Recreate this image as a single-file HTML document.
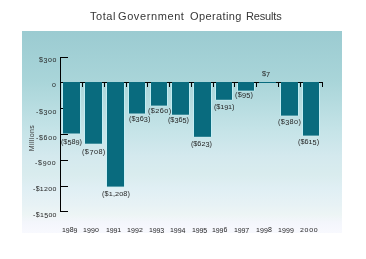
<!DOCTYPE html>
<html><head><meta charset="utf-8"><style>
html,body{margin:0;padding:0;width:366px;height:259px;overflow:hidden;background:#fff}
body{position:relative;font-family:"Liberation Sans",sans-serif;color:#262626}
#panel{position:absolute;left:22px;top:31px;width:320px;height:202px;background:linear-gradient(to bottom,#9bcbd1 0%,#a9d5d9 25%,#c6e4e8 50%,#d4e9ee 62%,#d9ecee 71%,#e0eff4 78%,#e7f2f5 86%,#edf5f5 91%,#f4f6fc 95%,#f8f9fe 100%)}
svg{position:absolute;left:0;top:0}
.tt,.lb,.yr,.yl{position:absolute;will-change:transform;line-height:20px;white-space:nowrap}
.tt{color:#363636}
.xs{display:inline-block;line-height:1em;transform:scaleY(0.78);transform-origin:50% 84.65%}.ds{display:inline-block;line-height:1em;transform:translateY(1.1px)}
.mil{position:absolute;left:18px;top:133px;width:28px;height:10px;text-align:center;font-size:7px;line-height:10px;transform:rotate(-90deg);letter-spacing:0.4px;color:#3c3c3c;white-space:nowrap;will-change:transform}
</style></head><body>
<div id="panel"></div>
<svg width="366" height="259" viewBox="0 0 366 259">
<rect x="62" y="83" width="1" height="50.50" fill="#c6f2f8" opacity="0.75"/>
<rect x="80" y="83" width="1" height="50.50" fill="#c6f2f8" opacity="0.75"/>
<rect x="63" y="133.50" width="17" height="1" fill="#d0f0f4" opacity="0.5"/>
<rect x="63" y="82" width="17" height="51.50" fill="#096b7e"/>
<rect x="84" y="83" width="1" height="60.70" fill="#c6f2f8" opacity="0.75"/>
<rect x="102" y="83" width="1" height="60.70" fill="#c6f2f8" opacity="0.75"/>
<rect x="85" y="143.70" width="17" height="1" fill="#d0f0f4" opacity="0.5"/>
<rect x="85" y="82" width="17" height="61.70" fill="#096b7e"/>
<rect x="106" y="83" width="1" height="103.60" fill="#c6f2f8" opacity="0.75"/>
<rect x="124" y="83" width="1" height="103.60" fill="#c6f2f8" opacity="0.75"/>
<rect x="107" y="186.60" width="17" height="1" fill="#d0f0f4" opacity="0.5"/>
<rect x="107" y="82" width="17" height="104.60" fill="#096b7e"/>
<rect x="128" y="83" width="1" height="30.50" fill="#c6f2f8" opacity="0.75"/>
<rect x="145" y="83" width="1" height="30.50" fill="#c6f2f8" opacity="0.75"/>
<rect x="129" y="113.50" width="16" height="1" fill="#d0f0f4" opacity="0.5"/>
<rect x="129" y="82" width="16" height="31.50" fill="#096b7e"/>
<rect x="150" y="83" width="1" height="22.60" fill="#c6f2f8" opacity="0.75"/>
<rect x="167" y="83" width="1" height="22.60" fill="#c6f2f8" opacity="0.75"/>
<rect x="151" y="105.60" width="16" height="1" fill="#d0f0f4" opacity="0.5"/>
<rect x="151" y="82" width="16" height="23.60" fill="#096b7e"/>
<rect x="171" y="83" width="1" height="31.70" fill="#c6f2f8" opacity="0.75"/>
<rect x="189" y="83" width="1" height="31.70" fill="#c6f2f8" opacity="0.75"/>
<rect x="172" y="114.70" width="17" height="1" fill="#d0f0f4" opacity="0.5"/>
<rect x="172" y="82" width="17" height="32.70" fill="#096b7e"/>
<rect x="193" y="83" width="1" height="53.80" fill="#c6f2f8" opacity="0.75"/>
<rect x="211" y="83" width="1" height="53.80" fill="#c6f2f8" opacity="0.75"/>
<rect x="194" y="136.80" width="17" height="1" fill="#d0f0f4" opacity="0.5"/>
<rect x="194" y="82" width="17" height="54.80" fill="#096b7e"/>
<rect x="215" y="83" width="1" height="16.75" fill="#c6f2f8" opacity="0.75"/>
<rect x="232" y="83" width="1" height="16.75" fill="#c6f2f8" opacity="0.75"/>
<rect x="216" y="99.75" width="16" height="1" fill="#d0f0f4" opacity="0.5"/>
<rect x="216" y="82" width="16" height="17.75" fill="#096b7e"/>
<rect x="237" y="83" width="1" height="7.60" fill="#c6f2f8" opacity="0.75"/>
<rect x="254" y="83" width="1" height="7.60" fill="#c6f2f8" opacity="0.75"/>
<rect x="238" y="90.60" width="16" height="1" fill="#d0f0f4" opacity="0.5"/>
<rect x="238" y="82" width="16" height="8.60" fill="#096b7e"/>
<rect x="259" y="82" width="17" height="1.00" fill="#096b7e"/>
<rect x="280" y="83" width="1" height="32.60" fill="#c6f2f8" opacity="0.75"/>
<rect x="298" y="83" width="1" height="32.60" fill="#c6f2f8" opacity="0.75"/>
<rect x="281" y="115.60" width="17" height="1" fill="#d0f0f4" opacity="0.5"/>
<rect x="281" y="82" width="17" height="33.60" fill="#096b7e"/>
<rect x="302" y="83" width="1" height="52.60" fill="#c6f2f8" opacity="0.75"/>
<rect x="319" y="83" width="1" height="52.60" fill="#c6f2f8" opacity="0.75"/>
<rect x="303" y="135.60" width="16" height="1" fill="#d0f0f4" opacity="0.5"/>
<rect x="303" y="82" width="16" height="53.60" fill="#096b7e"/>
<rect x="60" y="57" width="1" height="155" fill="#000"/>
<rect x="60" y="57" width="8" height="1" fill="#000"/>
<rect x="60" y="134" width="8" height="1" fill="#000"/>
<rect x="60" y="160" width="8" height="1" fill="#000"/>
<rect x="60" y="186" width="8" height="1" fill="#000"/>
<rect x="60" y="211" width="8" height="1" fill="#000"/>
<rect x="60" y="82" width="3" height="1" fill="#000"/>
<rect x="60" y="108" width="3" height="1" fill="#000"/>
<rect x="80" y="82" width="5" height="1" fill="#000"/>
<rect x="82" y="82" width="1" height="5" fill="#000"/>
<rect x="102" y="82" width="5" height="1" fill="#000"/>
<rect x="104" y="82" width="1" height="5" fill="#000"/>
<rect x="124" y="82" width="5" height="1" fill="#000"/>
<rect x="126" y="82" width="1" height="5" fill="#000"/>
<rect x="145" y="82" width="6" height="1" fill="#000"/>
<rect x="147" y="82" width="1" height="5" fill="#000"/>
<rect x="167" y="82" width="5" height="1" fill="#000"/>
<rect x="169" y="82" width="1" height="5" fill="#000"/>
<rect x="189" y="82" width="5" height="1" fill="#000"/>
<rect x="191" y="82" width="1" height="5" fill="#000"/>
<rect x="211" y="82" width="5" height="1" fill="#000"/>
<rect x="213" y="82" width="1" height="5" fill="#000"/>
<rect x="232" y="82" width="6" height="1" fill="#000"/>
<rect x="234" y="82" width="1" height="5" fill="#000"/>
<rect x="254" y="82" width="5" height="1" fill="#000"/>
<rect x="256" y="82" width="1" height="5" fill="#000"/>
<rect x="276" y="82" width="5" height="1" fill="#000"/>
<rect x="278" y="82" width="1" height="5" fill="#000"/>
<rect x="298" y="82" width="5" height="1" fill="#000"/>
<rect x="300" y="82" width="1" height="5" fill="#000"/>
<rect x="319" y="82" width="4" height="1" fill="#000"/>
<rect x="322" y="82" width="1" height="5" fill="#000"/>
</svg>
<div class="tt" style="left:90px;top:6px;font-size:11px;letter-spacing:0.525px">Total</div>
<div class="tt" style="left:118px;top:6px;font-size:11px;letter-spacing:0.600px">Government</div>
<div class="tt" style="left:190px;top:6px;font-size:11px;letter-spacing:0.387px">Operating</div>
<div class="tt" style="left:246px;top:6px;font-size:11px;letter-spacing:-0.150px">Results</div>
<div class="lb" style="left:61px;top:132px;font-size:7.3px;letter-spacing:-0.060px">($<span class="ds">5</span>8<span class="ds">9</span>)</div>
<div class="lb" style="left:82px;top:142px;font-size:7.3px;letter-spacing:0.440px">($<span class="ds">7</span><span class="xs">0</span>8)</div>
<div class="lb" style="left:102px;top:184px;font-size:7.3px;letter-spacing:0.100px">($<span class="xs">1</span>,<span class="xs">2</span><span class="xs">0</span>8)</div>
<div class="lb" style="left:129px;top:109px;font-size:7.3px;letter-spacing:0.040px">($<span class="ds">3</span>6<span class="ds">3</span>)</div>
<div class="lb" style="left:148px;top:101px;font-size:7.3px;letter-spacing:0.420px">($<span class="xs">2</span>6<span class="xs">0</span>)</div>
<div class="lb" style="left:168px;top:110px;font-size:7.3px;letter-spacing:-0.060px">($<span class="ds">3</span>6<span class="ds">5</span>)</div>
<div class="lb" style="left:191px;top:134px;font-size:7.3px;letter-spacing:-0.060px">($6<span class="xs">2</span><span class="ds">3</span>)</div>
<div class="lb" style="left:214px;top:97px;font-size:7.3px;letter-spacing:-0.150px">($<span class="xs">1</span><span class="ds">9</span><span class="xs">1</span>)</div>
<div class="lb" style="left:235px;top:85px;font-size:7.3px;letter-spacing:0.200px">($<span class="ds">9</span><span class="ds">5</span>)</div>
<div class="lb" style="left:262px;top:64px;font-size:7.3px;letter-spacing:0.000px">$<span class="ds">7</span></div>
<div class="lb" style="left:278px;top:112px;font-size:7.3px;letter-spacing:0.340px">($<span class="ds">3</span>8<span class="xs">0</span>)</div>
<div class="lb" style="left:298px;top:132px;font-size:7.3px;letter-spacing:0.000px">($6<span class="xs">1</span><span class="ds">5</span>)</div>
<div class="yr" style="left:62px;top:220px;font-size:7px;letter-spacing:-0.067px"><span class="xs">1</span><span class="ds">9</span>8<span class="ds">9</span></div>
<div class="yr" style="left:83px;top:220px;font-size:7px;letter-spacing:0.067px"><span class="xs">1</span><span class="ds">9</span><span class="ds">9</span><span class="xs">0</span></div>
<div class="yr" style="left:106px;top:220px;font-size:7px;letter-spacing:-0.150px"><span class="xs">1</span><span class="ds">9</span><span class="ds">9</span><span class="xs">1</span></div>
<div class="yr" style="left:127px;top:220px;font-size:7px;letter-spacing:0.133px"><span class="xs">1</span><span class="ds">9</span><span class="ds">9</span><span class="xs">2</span></div>
<div class="yr" style="left:149px;top:220px;font-size:7px;letter-spacing:-0.150px"><span class="xs">1</span><span class="ds">9</span><span class="ds">9</span><span class="ds">3</span></div>
<div class="yr" style="left:170px;top:220px;font-size:7px;letter-spacing:-0.067px"><span class="xs">1</span><span class="ds">9</span><span class="ds">9</span><span class="ds">4</span></div>
<div class="yr" style="left:192px;top:220px;font-size:7px;letter-spacing:-0.150px"><span class="xs">1</span><span class="ds">9</span><span class="ds">9</span><span class="ds">5</span></div>
<div class="yr" style="left:212px;top:220px;font-size:7px;letter-spacing:-0.100px"><span class="xs">1</span><span class="ds">9</span><span class="ds">9</span>6</div>
<div class="yr" style="left:234px;top:220px;font-size:7px;letter-spacing:-0.150px"><span class="xs">1</span><span class="ds">9</span><span class="ds">9</span><span class="ds">7</span></div>
<div class="yr" style="left:256px;top:220px;font-size:7px;letter-spacing:0.100px"><span class="xs">1</span><span class="ds">9</span><span class="ds">9</span>8</div>
<div class="yr" style="left:278px;top:220px;font-size:7px;letter-spacing:0.100px"><span class="xs">1</span><span class="ds">9</span><span class="ds">9</span><span class="ds">9</span></div>
<div class="yr" style="left:300px;top:220px;font-size:7px;letter-spacing:0.700px"><span class="xs">2</span><span class="xs">0</span><span class="xs">0</span><span class="xs">0</span></div>
<div class="yl" style="left:39px;top:50px;font-size:7px;letter-spacing:0.600px">$<span class="ds">3</span><span class="xs">0</span><span class="xs">0</span></div>
<div class="yl" style="left:52px;top:75px;font-size:7px;letter-spacing:0.000px"><span class="xs">0</span></div>
<div class="yl" style="left:36px;top:102px;font-size:7px;letter-spacing:0.625px">-$<span class="ds">3</span><span class="xs">0</span><span class="xs">0</span></div>
<div class="yl" style="left:36px;top:128px;font-size:7px;letter-spacing:0.700px">-$6<span class="xs">0</span><span class="xs">0</span></div>
<div class="yl" style="left:35px;top:153px;font-size:7px;letter-spacing:0.700px">-$<span class="ds">9</span><span class="xs">0</span><span class="xs">0</span></div>
<div class="yl" style="left:33px;top:179px;font-size:7px;letter-spacing:0.300px">-$<span class="xs">1</span><span class="xs">2</span><span class="xs">0</span><span class="xs">0</span></div>
<div class="yl" style="left:33px;top:205px;font-size:7px;letter-spacing:0.340px">-$<span class="xs">1</span><span class="ds">5</span><span class="xs">0</span><span class="xs">0</span></div>
<div class="mil">Millions</div>
</body></html>
